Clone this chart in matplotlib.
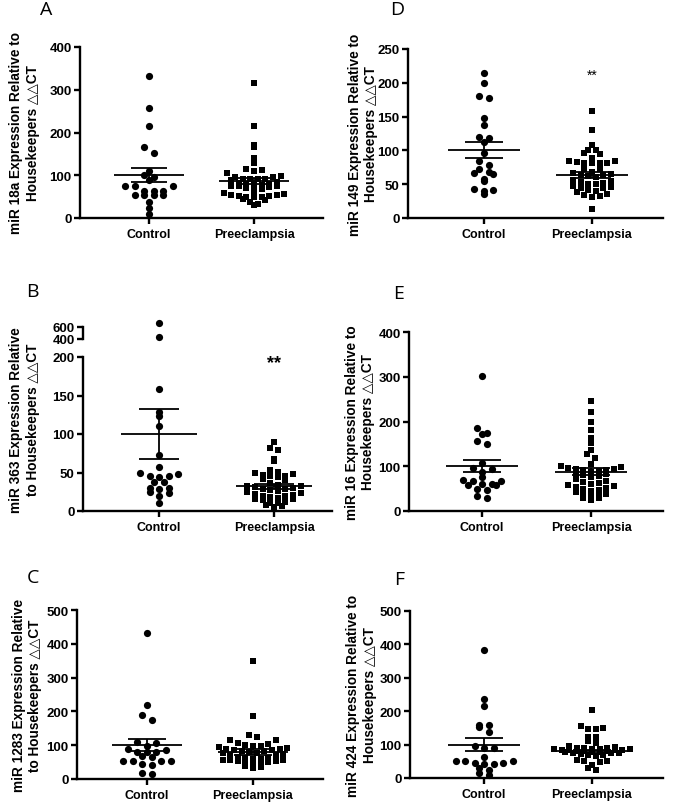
import numpy as np
import matplotlib
matplotlib.use('Agg')
import matplotlib.pyplot as plt

W, H = 685, 804

plt.rcParams['font.family'] = ['Liberation Sans', 'DejaVu Sans']
plt.rcParams['font.weight'] = 'bold'

groups = ['Control', 'Preeclampsia']

# A - miR 18a
a_control = [333, 257, 216, 165, 153, 109, 101, 95, 90, 76, 76, 76, 64, 64, 64,
             54, 54, 54, 54, 37, 23, 9]
a_pre = [316, 216, 170, 166, 141, 129, 115, 112, 109, 105, 98, 97, 95, 92, 92, 92,
         92, 90, 84, 82, 80, 79, 78, 77, 76, 75, 74, 72, 70, 68, 62, 58, 55, 54,
         53, 52, 51, 50, 49, 48, 45, 42, 38, 32, 30]
a_mean = [100, 86]
a_sem = [16.5, 7]

# D - miR 149
d_control = [214, 199, 181, 177, 148, 137, 120, 118, 112, 96, 85, 78, 73, 68, 66,
             65, 58, 55, 43, 42, 40, 35]
d_pre = [158, 130, 108, 101, 101, 96, 94, 89, 85, 84, 83, 82, 81, 81, 81, 73, 72,
         68, 66, 65, 64, 63, 62, 60, 56, 55, 53, 52, 51, 50, 48, 46, 45, 44, 42,
         40, 38, 36, 34, 32, 31, 13]
d_mean = [100, 64]
d_sem = [11.7, 4.5]

# B - miR 363
b_control = [664, 431, 159, 129, 124, 111, 73, 57, 50, 48, 45, 45, 44, 38, 38,
             30, 30, 29, 25, 24, 19, 10]
b_pre = [90, 82, 79, 68, 65, 53, 51, 50, 48, 47, 46, 45, 44, 42, 40, 36, 34, 33,
         32, 31, 30, 29, 28, 27, 26, 25, 24, 22, 21, 20, 19, 18, 17, 16, 15, 14,
         12, 11, 10, 8, 7, 5]
b_mean = [100, 32]
b_sem = [32.5, 3]

# E - miR 16
e_control = [301, 186, 175, 171, 156, 150, 107, 97, 93, 88, 77, 70, 66, 66, 60,
             60, 58, 58, 50, 47, 33, 30]
e_pre = [246, 221, 198, 180, 164, 151, 136, 127, 119, 106, 101, 98, 95, 94, 93,
         92, 91, 90, 88, 85, 82, 80, 78, 76, 72, 68, 65, 62, 60, 58, 56, 54, 52,
         50, 48, 45, 42, 39, 39, 34, 34, 28, 28, 25]
e_mean = [100, 88]
e_sem = [13.5, 7]

# C - miR 1283
c_control = [432, 219, 189, 175, 108, 106, 97, 89, 87, 81, 81, 79, 67, 66, 54,
             54, 52, 52, 44, 42, 19, 15]
c_pre = [350, 185, 131, 123, 115, 115, 106, 104, 101, 99, 99, 95, 92, 90, 88, 86,
         85, 84, 82, 80, 78, 76, 74, 72, 70, 66, 63, 61, 60, 58, 57, 56, 55, 54,
         52, 50, 48, 45, 42, 38, 35, 32]
c_mean = [100, 80]
c_sem = [18, 8]

# F - miR 424
f_control = [384, 237, 215, 159, 159, 154, 137, 97, 90, 89, 63, 52, 52, 50, 45,
             45, 41, 41, 30, 23, 16, 10]
f_pre = [205, 155, 149, 147, 147, 122, 122, 110, 105, 95, 92, 90, 90, 89, 88, 88,
         87, 86, 85, 85, 84, 83, 82, 81, 80, 79, 78, 77, 76, 75, 74, 72, 70, 68,
         65, 53, 50, 50, 48, 40, 30, 25]
f_mean = [100, 80]
f_sem = [20, 5]

DELTA = '\u25b3\u25b3CT'


def rect(left, right, top, bottom):
    return [left / W, 1 - bottom / H, (right - left) / W, (bottom - top) / H]


def scatter_x(ax, xc, vals, step, binh, maxrow, base=0):
    # column scatter: values binned into rows, each row spread out from the centre
    vals = np.asarray(vals, dtype=float)
    pts = ax.transData.transform(np.column_stack([np.full(len(vals), float(xc)), vals]))
    y0 = ax.transData.transform((xc, base))[1]
    bins = np.floor((pts[:, 1] - y0) / binh).astype(int)
    off = np.zeros(len(vals))
    for bn in np.unique(bins):
        idx = np.where(bins == bn)[0]
        idx = idx[np.argsort(vals[idx], kind='stable')]
        for k0 in range(0, len(idx), maxrow):
            chunk = idx[k0:k0 + maxrow]
            n = len(chunk)
            if n % 2:
                slots = [0.0] + [s * k for k in range(1, n) for s in (1, -1)]
            else:
                slots = [s * (k - 0.5) for k in range(1, n) for s in (1, -1)]
            off[chunk] = np.array(slots[:n]) * step
    out = ax.transData.inverted().transform(np.column_stack([pts[:, 0] + off, pts[:, 1]]))
    return out[:, 0]


def style(ax):
    for s in ['top', 'right']:
        ax.spines[s].set_visible(False)
    for s in ['left', 'bottom']:
        ax.spines[s].set_linewidth(1.7)
    ax.tick_params(width=1.7, length=4.5, direction='out')
    ax.tick_params(axis='y', labelsize=9.5, pad=1.5)
    ax.tick_params(axis='x', labelsize=9, pad=3)


def draw_group(ax, xc, vals, marker, ms, step, maxrow, base=0):
    xs = scatter_x(ax, xc, vals, step, 6.5, maxrow, base)
    ax.plot(xs, vals, linestyle='none', marker=marker, ms=ms, color='black',
            mew=0, clip_on=False, zorder=3)


def mean_sem(ax, xc, m, s):
    kw = dict(color='black', lw=1.3, zorder=4, solid_capstyle='butt')
    ax.plot([xc - 0.33, xc + 0.33], [m, m], **kw)
    ax.plot([xc - 0.175, xc + 0.175], [m + s, m + s], **kw)
    ax.plot([xc - 0.175, xc + 0.175], [m - s, m - s], **kw)
    ax.plot([xc, xc], [m - s, m + s], **kw)


fig = plt.figure(figsize=(W / 100, H / 100), dpi=100)

# letter, axes box in px (left, right, top, bottom), tick x px, ymax, ystep, data, label
panels = [
    ('A', (80, 323, 48, 219), (149, 254), 400, 100, a_control, a_pre, a_mean, a_sem,
     'miR 18a Expression Relative to\nHousekeepers ' + DELTA, 24.5, (46, 10)),
    ('D', (408, 663, 50, 219), (484, 592), 250, 50, d_control, d_pre, d_mean, d_sem,
     'miR 149 Expression Relative to\nHousekeepers ' + DELTA, 363, (397, 10)),
    ('B', (83, 332, 358, 512), (159, 274), 200, 50, b_control, b_pre, b_mean, b_sem,
     'miR 363 Expression Relative\nto Housekeepers ' + DELTA, 24.5, (32, 292)),
    ('E', (409, 663, 333, 512), (482, 591), 400, 100, e_control, e_pre, e_mean, e_sem,
     'miR 16 Expression Relative to\nHousekeepers ' + DELTA, 360, (399, 294)),
    ('C', (77, 323, 611, 780), (147, 253), 500, 100, c_control, c_pre, c_mean, c_sem,
     'miR 1283 Expression Relative\nto Housekeepers ' + DELTA, 27, (33, 578)),
    ('F', (410, 663, 612, 779), (484, 592), 500, 100, f_control, f_pre, f_mean, f_sem,
     'miR 424 Expression Relative to\nHousekeepers ' + DELTA, 361.5, (399, 580)),
]

for (letter, (l, r, t, b), (t1, t2), ymax, ystep, ctrl, pre, mean, sem,
     ylabel, lab_x, (lx, ly)) in panels:
    ax = fig.add_axes(rect(l, r, t, b))
    ax.patch.set_alpha(0)
    d = t2 - t1
    ax.set_xlim(1 - (t1 - l) / d, 2 + (r - t2) / d)
    ax.set_ylim(0, ymax)
    ax.set_yticks(np.arange(0, ymax + 1, ystep))
    ax.set_xticks([1, 2])
    ax.set_xticklabels(groups)
    style(ax)

    ctrl = np.array(ctrl, dtype=float)
    low = ctrl[ctrl <= ymax]
    draw_group(ax, 1, low, 'o', 5.2, 9.5, 7)
    draw_group(ax, 2, pre, 's', 4.7, 7.6, 11)
    mean_sem(ax, 1, mean[0], sem[0])
    mean_sem(ax, 2, mean[1], sem[1])

    ycen = (t + b) / 2
    if letter == 'B':
        # broken y axis, upper segment 400-600
        ax2 = fig.add_axes(rect(l, r, 328, 339.5))
        ax2.patch.set_alpha(0)
        ax2.set_xlim(ax.get_xlim())
        ax2.set_ylim(400, 600)
        ax2.set_yticks([400, 600])
        for s in ['top', 'right', 'bottom']:
            ax2.spines[s].set_visible(False)
        ax2.spines['left'].set_linewidth(1.7)
        ax2.tick_params(axis='y', width=1.7, length=4.5, labelsize=9.5, pad=1.5)
        ax2.set_xticks([])
        high = ctrl[ctrl > ymax]
        draw_group(ax2, 1, high, 'o', 5.2, 9.5, 7, base=400)
        ax.text(2, 187, '**', ha='center', va='baseline', fontsize=13,
                fontweight='bold')
        ycen = (328 + b) / 2
    if letter == 'D':
        ax.text(2, 206, '**', ha='center', va='baseline', fontsize=10,
                fontweight='normal')

    fig.text(lab_x / W, 1 - ycen / H, ylabel, rotation=90, ha='center',
             va='center', multialignment='center', fontsize=9.8, linespacing=1.25)
    fig.text(lx / W, 1 - ly / H, letter, ha='center', va='center',
             fontsize=14, fontweight='normal', family='Open Sans')

fig.savefig('out.png', dpi=100)
